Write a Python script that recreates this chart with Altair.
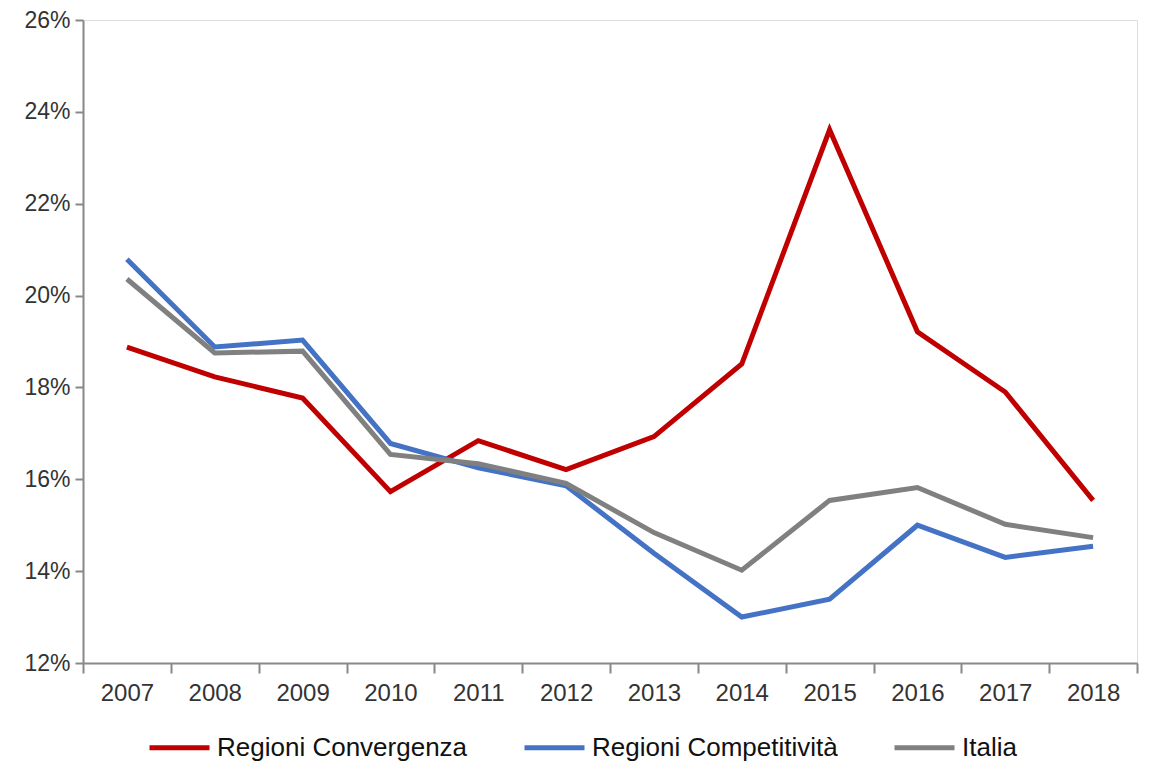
import altair as alt
import pandas as pd

years = [str(y) for y in range(2007, 2019)]
convergenza = [18.88, 18.23, 17.77, 15.73, 16.84, 16.21, 16.93, 18.51, 23.61, 19.21, 17.90, 15.54]
competitivita = [20.79, 18.88, 19.03, 16.78, 16.25, 15.86, 14.39, 13.00, 13.39, 15.00, 14.30, 14.54]
italia = [20.36, 18.75, 18.79, 16.54, 16.34, 15.91, 14.84, 14.02, 15.54, 15.82, 15.02, 14.73]

series_names = ["Regioni Convergenza", "Regioni Competitività", "Italia"]
series_colors = ["#C00000", "#4472C4", "#808080"]

rows = []
for name, vals in zip(series_names, [convergenza, competitivita, italia]):
    for y, v in zip(years, vals):
        rows.append({"anno": y, "valore": v, "serie": name})
df = pd.DataFrame(rows)

chart = alt.Chart(df).mark_line(strokeWidth=5, strokeJoin="miter").encode(
    x=alt.X(
        "anno:O",
        scale=alt.Scale(type="band", paddingInner=0, paddingOuter=0),
        bandPosition=0.5,
        axis=alt.Axis(
            title=None,
            labelAngle=0,
            tickBand="extent",
            tickSize=10,
            labelPadding=8,
            labelFontSize=24,
            labelFont="Liberation Sans",
            labelColor="#333333",
            domainColor="#888888",
            tickColor="#888888",
            domainWidth=2,
            tickWidth=2,
            grid=False,
        ),
    ),
    y=alt.Y(
        "valore:Q",
        scale=alt.Scale(domain=[12, 26], nice=False, zero=False),
        axis=alt.Axis(
            title=None,
            values=[12, 14, 16, 18, 20, 22, 24, 26],
            labelExpr="datum.value + '%'",
            tickSize=8,
            labelPadding=5,
            labelFontSize=23,
            labelFont="Liberation Sans",
            labelColor="#333333",
            domainColor="#888888",
            tickColor="#888888",
            domainWidth=2,
            tickWidth=2,
            grid=False,
        ),
    ),
    color=alt.Color(
        "serie:N",
        scale=alt.Scale(domain=series_names, range=series_colors),
        sort=series_names,
        legend=alt.Legend(
            title=None,
            orient="none",
            direction="horizontal",
            legendX=64,
            legendY=695,
            symbolType="stroke",
            symbolSize=3600,
            symbolStrokeWidth=5,
            labelFontSize=26,
            labelFont="Liberation Sans",
            labelColor="#111111",
            labelOffset=5,
            columnPadding=46,
            labelLimit=400,
        ),
    ),
).properties(
    width=1054,
    height=643,
    autosize=alt.AutoSizeParams(type="none"),
    padding={"left": 75, "top": 12, "right": 8, "bottom": 100},
).configure_view(stroke=None).configure(background="white")

chart.save("out.html", embed_options={"renderer": "svg", "actions": False})
